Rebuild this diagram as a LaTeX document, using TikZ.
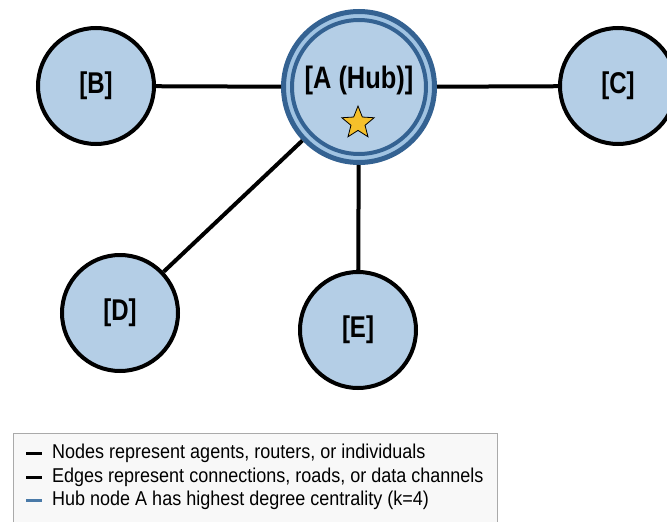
\documentclass[tikz,border=0pt]{standalone}
\usepackage{fontspec}
\setmainfont{Liberation Sans}
\newfontfamily\legendfont[FakeStretch=0.9]{Liberation Sans}
\newfontfamily\peerfont[FakeStretch=0.8]{Liberation Sans}
\newfontfamily\hubfont[FakeStretch=0.82]{Liberation Sans}
\usetikzlibrary{shapes.geometric}
\definecolor{nodefill}{RGB}{180,206,230}
\definecolor{hubblue}{RGB}{52,98,146}
\definecolor{hubband}{RGB}{160,195,226}
\definecolor{legendline}{RGB}{74,122,168}
\definecolor{starfill}{RGB}{245,192,43}
\definecolor{boxfill}{RGB}{248,248,248}
\definecolor{boxdraw}{RGB}{170,170,170}
\tikzset{
  peer/.style={circle,draw=black,line width=4pt,fill=nodefill,minimum size=116pt,
    inner sep=0pt,font=\peerfont\bfseries\fontsize{30}{32}\selectfont},
  hub/.style={circle,draw=hubblue,line width=5pt,fill=hubband,minimum size=151pt,
    inner sep=0pt},
  link/.style={line width=4pt,black},
  legendtext/.style={anchor=west,inner sep=0pt,font=\legendfont\fontsize{20}{22}\selectfont}
}
\begin{document}
\begin{tikzpicture}[x=1pt,y=-1pt]
  \useasboundingbox[fill=white] (0,0) rectangle (667,522);

  %% hub
  \node[hub] (A) at (359,87) {};
  \draw[hubblue,line width=4pt,fill=nodefill] (A.center) circle (67);
  \node[font=\hubfont\bfseries\fontsize{31}{33}\selectfont] (Alabel) at (359,80) {[A (Hub)]};
  \node[star,star points=5,star point ratio=2.3,draw=black,line width=0.8pt,
    fill=starfill,minimum size=34pt,inner sep=0pt] (star) at (358,123) {};

  %% other nodes
  \node[peer] (B) at (96,86) {[B]};
  \node[peer] (C) at (618,86) {[C]};
  \node[peer] (D) at (120,313) {[D]};
  \node[peer] (E) at (358,330) {[E]};

  %% edges
  \draw[link] (B) -- (A);
  \draw[link] (A) -- (C);
  \draw[link] (A) -- (D);
  \draw[link] (A) -- (E);

  %% legend
  \draw[fill=boxfill,draw=boxdraw,line width=1pt] (13,433) rectangle (497,530);
  \node[legendtext] (L1) at (52,453) {Nodes represent agents, routers, or individuals};
  \node[legendtext] (L2) at (52,477) {Edges represent connections, roads, or data channels};
  \node[legendtext] (L3) at (52,500) {Hub node A has highest degree centrality (k=4)};
  \draw[line width=3pt,black] ([xshift=-26pt]L1.west) -- ([xshift=-10pt]L1.west);
  \draw[line width=3pt,black] ([xshift=-26pt]L2.west) -- ([xshift=-10pt]L2.west);
  \draw[line width=3pt,legendline] ([xshift=-26pt]L3.west) -- ([xshift=-10pt]L3.west);
\end{tikzpicture}
\end{document}
